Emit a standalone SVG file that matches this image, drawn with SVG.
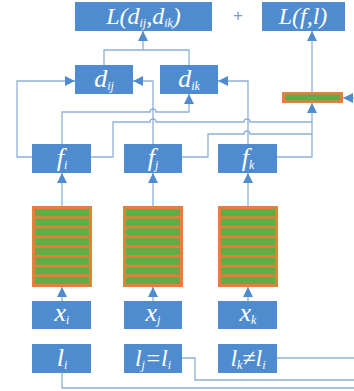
<svg xmlns="http://www.w3.org/2000/svg" width="354" height="391" viewBox="0 0 354 391">
<style>
.box{fill:#4f8ccf;}
.lbl{font-family:"Liberation Serif","Times New Roman",serif;font-style:italic;fill:#ffffff;text-anchor:middle;}
.sub{font-size:12px;}
.conn{fill:none;stroke:#8fb0d8;stroke-width:1.3;}
.arr{fill:none;stroke:#8fb0d8;stroke-width:1.3;marker-end:url(#ah);}
.stk{fill:#e5803a;}
.grn{fill:#5cae45;}
</style>
<defs>
<marker id="ah" markerUnits="userSpaceOnUse" markerWidth="10" markerHeight="10" viewBox="0 0 10 10" refX="10" refY="5" orient="auto">
<path d="M0,0 L10,5 L0,10 Z" fill="#4f8ccf"/>
</marker>
<g id="stack">
<rect class="stk" x="0" y="0" width="60" height="81"/>
<rect class="grn" x="3" y="3" width="54" height="7.2"/>
<rect class="grn" x="3" y="12.7" width="54" height="7.2"/>
<rect class="grn" x="3" y="22.4" width="54" height="7.2"/>
<rect class="grn" x="3" y="32.1" width="54" height="7.2"/>
<rect class="grn" x="3" y="41.8" width="54" height="7.2"/>
<rect class="grn" x="3" y="51.5" width="54" height="7.2"/>
<rect class="grn" x="3" y="61.2" width="54" height="7.2"/>
<rect class="grn" x="3" y="70.9" width="54" height="7.1"/>
</g>
</defs>

<g id="connectors">
<path class="conn" d="M104,65 V50 H189 V65"/>
<path class="arr" d="M143,50 V31"/>
<path class="arr" d="M32,157 H17 V81 H75"/>
<path class="arr" d="M62,144 V112 H150 A3,3 0 0 1 156,112 H189 V94"/>
<path class="conn" d="M91,157 H113 V122 H150 A3,3 0 0 1 156,122 H244 A3,3 0 0 1 250,122 H312"/>
<path class="arr" d="M153,144 V81 H133"/>
<path class="conn" d="M182,157 H208 V134 H244 A3,3 0 0 1 250,134 H312"/>
<path class="arr" d="M248,144 V81 H218"/>
<path class="arr" d="M277,157 H312 V103"/>
<path class="arr" d="M312,92 V31"/>
<path class="arr" d="M354,98 H343"/>
<path class="arr" d="M62,206 V173"/>
<path class="arr" d="M153,206 V173"/>
<path class="arr" d="M248,206 V173"/>
<path class="arr" d="M62,301 V287"/>
<path class="arr" d="M153,301 V287"/>
<path class="arr" d="M248,301 V287"/>
<path class="conn" d="M62,373 V388 H354"/>
<path class="conn" d="M182,358 H195 V380 H354"/>
<path class="conn" d="M277,358 H354"/>
</g>

<g id="loss_d">
<rect class="box" x="75" y="2" width="137" height="29"/>
<text class="lbl" x="143.5" y="24" font-size="24">L(d<tspan class="sub" dy="3">ij</tspan><tspan dy="-3">,d</tspan><tspan class="sub" dy="3">ik</tspan><tspan dy="-3">)</tspan></text>
</g>
<g id="plus">
<text x="238" y="21" font-family="Liberation Sans, Arial, sans-serif" font-size="17" fill="#6f9fd6" text-anchor="middle">+</text>
</g>
<g id="loss_f">
<rect class="box" x="262" y="2" width="83" height="29"/>
<text class="lbl" x="303" y="24" font-size="24">L(f,l)</text>
</g>
<g id="d_ij">
<rect class="box" x="75" y="65" width="58" height="29"/>
<text class="lbl" x="104" y="87" font-size="26">d<tspan class="sub" dy="3">ij</tspan></text>
</g>
<g id="d_ik">
<rect class="box" x="160" y="65" width="58" height="29"/>
<text class="lbl" x="189" y="87" font-size="26">d<tspan class="sub" dy="3">ik</tspan></text>
</g>
<g id="bar">
<rect x="282" y="92" width="61" height="11" fill="#e5803a"/>
<rect x="285" y="94.5" width="55" height="6" fill="#5cae45"/>
</g>
<g id="f_i">
<rect class="box" x="32" y="144" width="59" height="29"/>
<text class="lbl" x="62" y="166" font-size="26">f<tspan class="sub" dy="3">i</tspan></text>
</g>
<g id="f_j">
<rect class="box" x="124" y="144" width="58" height="29"/>
<text class="lbl" x="153" y="166" font-size="26">f<tspan class="sub" dy="3">j</tspan></text>
</g>
<g id="f_k">
<rect class="box" x="218" y="144" width="59" height="29"/>
<text class="lbl" x="248" y="166" font-size="26">f<tspan class="sub" dy="3">k</tspan></text>
</g>
<g id="net_i"><use href="#stack" x="32" y="206"/></g>
<g id="net_j"><use href="#stack" x="123" y="206"/></g>
<g id="net_k"><use href="#stack" x="218" y="206"/></g>
<g id="x_i">
<rect class="box" x="32" y="301" width="59" height="28"/>
<text class="lbl" x="62" y="321" font-size="26">x<tspan class="sub" dy="3">i</tspan></text>
</g>
<g id="x_j">
<rect class="box" x="124" y="301" width="58" height="28"/>
<text class="lbl" x="153" y="321" font-size="26">x<tspan class="sub" dy="3">j</tspan></text>
</g>
<g id="x_k">
<rect class="box" x="218" y="301" width="59" height="28"/>
<text class="lbl" x="248" y="321" font-size="26">x<tspan class="sub" dy="3">k</tspan></text>
</g>
<g id="l_i">
<rect class="box" x="32" y="344" width="59" height="29"/>
<text class="lbl" x="62" y="366" font-size="26">l<tspan class="sub" dy="3">i</tspan></text>
</g>
<g id="l_j">
<rect class="box" x="124" y="344" width="58" height="29"/>
<text class="lbl" x="153" y="366" font-size="24">l<tspan class="sub" dy="3">j</tspan><tspan dy="-3">=l</tspan><tspan class="sub" dy="3">i</tspan></text>
</g>
<g id="l_k">
<rect class="box" x="218" y="344" width="59" height="29"/>
<text class="lbl" x="248" y="366" font-size="24">l<tspan class="sub" dy="3">k</tspan><tspan dy="-3">≠l</tspan><tspan class="sub" dy="3">i</tspan></text>
</g>
</svg>
